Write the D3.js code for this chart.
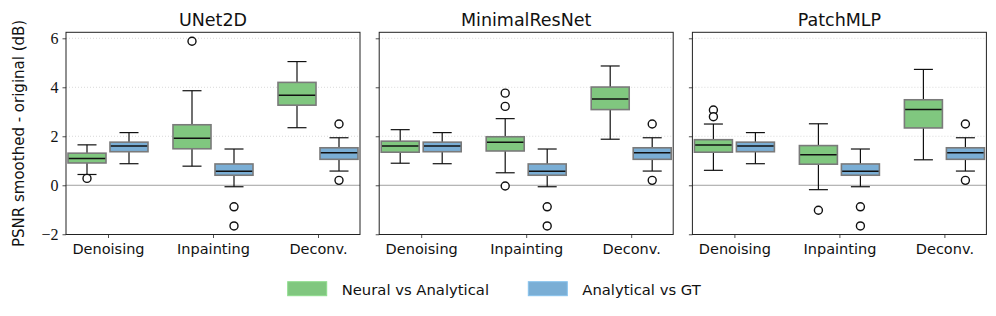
<!DOCTYPE html>
<html lang="en">
<head>
    <meta charset="UTF-8">
    <title>PSNR smoothed - original</title>
    <script src="https://d3js.org/d3.v7.min.js"></script>
    <style>
        body { margin: 0; background: #fff; }
        text { font-family: "DejaVu Sans", sans-serif; fill: #111; }
        .num { font-family: "Liberation Serif", serif; }
    </style>
</head>
<body>
    <div id="chart"></div>
    <script>
        // box stats: [lower whisker, q1, median, q3, upper whisker]
        var models = ["UNet2D", "MinimalResNet", "PatchMLP"];
        var tasks = ["Denoising", "Inpainting", "Deconv."];
        var seriesNames = ["Neural vs Analytical", "Analytical vs GT"];
        var seriesColors = ["#80c77f", "#7aaed5"];
        var yTicks = [-2, 0, 2, 4, 6];

        var neuralUNet2D = [[0.44, 0.91, 1.09, 1.31, 1.65], [0.78, 1.49, 1.92, 2.47, 3.86], [2.35, 3.27, 3.67, 4.20, 5.05]];
        var neuralUNet2DOut = [[0.28], [5.88], []];
        var neuralResNet = [[0.90, 1.35, 1.60, 1.80, 2.27], [0.51, 1.40, 1.76, 1.98, 2.72], [1.88, 3.09, 3.52, 4.01, 4.87]];
        var neuralResNetOut = [[], [3.76, 3.22, -0.03], []];
        var neuralPatchMLP = [[0.61, 1.35, 1.64, 1.86, 2.50], [-0.18, 0.86, 1.25, 1.62, 2.51], [1.04, 2.34, 3.09, 3.49, 4.73]];
        var neuralPatchMLPOut = [[3.07, 2.80], [-1.02], []];
        // analytical vs ground truth does not depend on the model
        var analyticalGT = [[0.88, 1.37, 1.60, 1.76, 2.15], [-0.06, 0.41, 0.57, 0.87, 1.48], [0.58, 1.06, 1.33, 1.53, 1.94]];
        var analyticalGTOut = [[], [-0.88, -1.66], [2.50, 0.20]];

        var neural = [neuralUNet2D, neuralResNet, neuralPatchMLP];
        var neuralOut = [neuralUNet2DOut, neuralResNetOut, neuralPatchMLPOut];

        var W = 996, H = 316;
        var plotTop = 32.3, plotBottom = 234.5, panelW = 294;
        var panelX = [66, 379.2, 692.4];

        var svg = d3.select("#chart").append("svg")
            .attr("width", W).attr("height", H);

        var y = d3.scaleLinear().domain([-2.01, 6.245]).range([plotBottom, plotTop]);
        var x = d3.scaleLinear().domain([-0.4, 2.4]).range([0, panelW]);
        var boxW = x(0.362) - x(0);
        var offsets = [-0.2, 0.2];

        models.forEach(function (m, mi) {
            var g = svg.append("g").attr("transform", "translate(" + panelX[mi] + ",0)");

            // dotted grid + zero line
            g.selectAll(".grid").data([2, 4, 6]).enter().append("line")
                .attr("x1", 0).attr("x2", panelW)
                .attr("y1", function (d) { return y(d); }).attr("y2", function (d) { return y(d); })
                .attr("stroke", "#cfcfcf").attr("stroke-width", 0.8).attr("stroke-dasharray", "1,2");
            g.append("line")
                .attr("x1", 0).attr("x2", panelW).attr("y1", y(0)).attr("y2", y(0))
                .attr("stroke", "#a0a0a0").attr("stroke-width", 1);

            // axes
            var yAxis = d3.axisLeft(y).tickValues(yTicks).tickSize(3.5).tickPadding(4)
                .tickFormat(mi === 0 ? function (d) { return d < 0 ? "\u2212" + Math.abs(d) : d; } : "");
            var ya = g.append("g").call(yAxis);
            ya.select(".domain").remove();
            ya.selectAll("text").attr("class", "num").style("font-size", "16px").attr("fill", "#111");

            var xAxis = d3.axisBottom(x).tickValues([0, 1, 2]).tickSize(3.5).tickPadding(6)
                .tickFormat(function (d) { return tasks[d]; });
            var xa = g.append("g").attr("transform", "translate(0," + plotBottom + ")").call(xAxis);
            xa.select(".domain").remove();
            xa.selectAll("text").style("font-size", "14.5px").attr("fill", "#111");
            g.selectAll(".tick line").attr("stroke", "#222").attr("stroke-width", 0.8);

            // boxes
            [neural[mi], analyticalGT].forEach(function (stats, si) {
                var outs = si === 0 ? neuralOut[mi] : analyticalGTOut;
                stats.forEach(function (s, ti) {
                    var cx = x(ti + offsets[si]);
                    var bg = g.append("g");
                    bg.append("line").attr("x1", cx).attr("x2", cx).attr("y1", y(s[0])).attr("y2", y(s[1]))
                        .attr("stroke", "#111").attr("stroke-width", 1.2);
                    bg.append("line").attr("x1", cx).attr("x2", cx).attr("y1", y(s[3])).attr("y2", y(s[4]))
                        .attr("stroke", "#111").attr("stroke-width", 1.2);
                    [s[0], s[4]].forEach(function (v) {
                        bg.append("line").attr("x1", cx - boxW / 4).attr("x2", cx + boxW / 4)
                            .attr("y1", y(v)).attr("y2", y(v))
                            .attr("stroke", "#111").attr("stroke-width", 1.2);
                    });
                    bg.append("rect")
                        .attr("x", cx - boxW / 2).attr("width", boxW)
                        .attr("y", y(s[3])).attr("height", y(s[1]) - y(s[3]))
                        .attr("fill", seriesColors[si]).attr("stroke", "#7a7a7a").attr("stroke-width", 1.6);
                    bg.append("line").attr("x1", cx - boxW / 2 + 0.8).attr("x2", cx + boxW / 2 - 0.8)
                        .attr("y1", y(s[2])).attr("y2", y(s[2]))
                        .attr("stroke", "#111").attr("stroke-width", 1.5);
                    bg.selectAll(".out").data(outs[ti]).enter().append("circle")
                        .attr("cx", cx).attr("cy", function (d) { return y(d); }).attr("r", 4)
                        .attr("fill", "#fff").attr("stroke", "#111").attr("stroke-width", 1.4);
                });
            });

            // frame
            g.append("rect").attr("x", 0).attr("y", plotTop).attr("width", panelW).attr("height", plotBottom - plotTop)
                .attr("fill", "none").attr("stroke", "#222").attr("stroke-width", 1);

            g.append("text")
                .attr("x", panelW / 2).attr("y", 26)
                .attr("text-anchor", "middle")
                .style("font-size", "17.5px")
                .text(m);
        });

        svg.append("text")
            .attr("transform", "rotate(-90)")
            .attr("x", -(plotTop + plotBottom) / 2).attr("y", 24)
            .attr("text-anchor", "middle")
            .style("font-size", "15px")
            .text("PSNR smoothed - original (dB)");

        // legend
        var legX = [287.7, 528.3];
        seriesNames.forEach(function (name, i) {
            svg.append("rect")
                .attr("x", legX[i]).attr("y", 281.7).attr("width", 39).attr("height", 14)
                .attr("fill", seriesColors[i]).attr("stroke", d3.color(seriesColors[i]).brighter(0.3)).attr("stroke-width", 1);
            svg.append("text")
                .attr("x", legX[i] + 54).attr("y", 295)
                .style("font-size", "14.8px")
                .text(name);
        });
    </script>
</body>
</html>
